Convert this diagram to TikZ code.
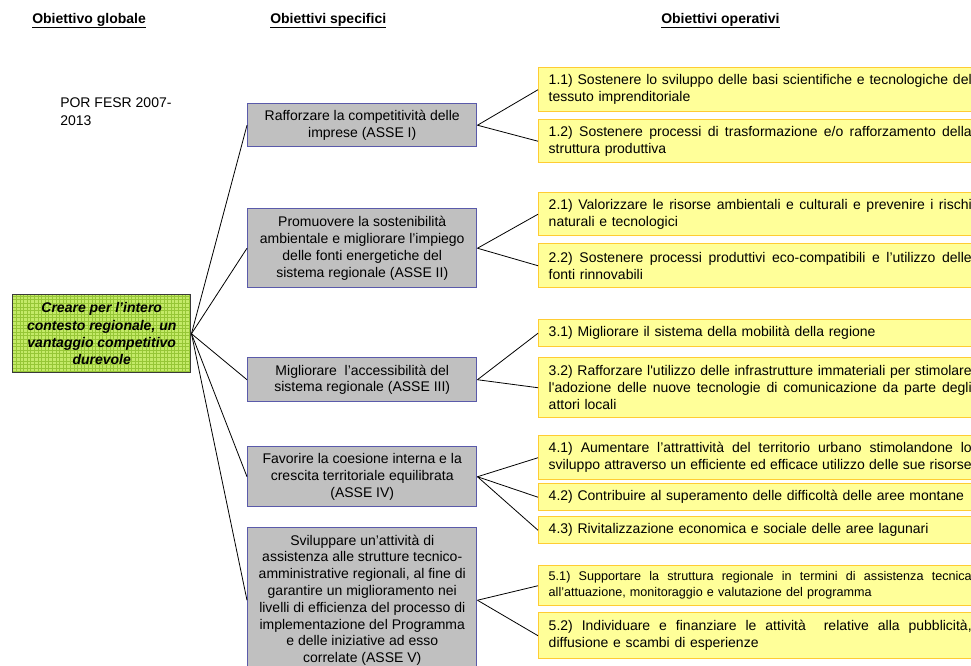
\documentclass[tikz,border=0pt]{standalone}
\usepackage{fontspec}
\setmainfont{Liberation Sans}
\definecolor{specfill}{HTML}{C0C0C0}
\definecolor{specline}{HTML}{5A5AAA}
\definecolor{opfill}{HTML}{FFFF99}
\definecolor{opline}{HTML}{FFCC33}
\definecolor{glfill}{HTML}{C4EA68}
\definecolor{glgrid}{HTML}{96C636}
\definecolor{glline}{HTML}{3A3A3A}
% width of the text column inside the operative boxes
\newlength\opw
\setlength\opw{317.25pt}
% a fully justified line, using the font's own stretchable word space
\newcommand\jl[1]{{\spaceskip=0pt\xspaceskip=0pt\relax\makebox[\opw][s]{#1}}}
\tikzset{
  hdr/.style={font=\bfseries\fontsize{10.5pt}{12pt}\selectfont, inner sep=0pt, anchor=base west},
  plain/.style={font=\fontsize{10.5pt}{12pt}\selectfont, inner sep=0pt, anchor=base west},
  global/.style={draw=glline, fill=glfill, line width=1.1pt, anchor=north west,
    minimum width=133.5pt, minimum height=58.5pt, inner sep=0pt, align=center,
    font=\bfseries\itshape\fontsize{10.5pt}{12.9pt}\selectfont,
    path picture={\draw[glgrid, line width=0.4pt, step=2.7pt]
      (path picture bounding box.south west) grid (path picture bounding box.north east);}},
  spec/.style={draw=specline, fill=specfill, line width=1.1pt, anchor=north west,
    minimum width=171.75pt, inner sep=0pt, align=center,
    font=\fontsize{10.5pt}{12.6pt}\selectfont},
  oper/.style={draw=opline, fill=opfill, line width=1.1pt, anchor=north west,
    text width=\opw, inner xsep=7.5pt, inner ysep=0pt,
    font=\fontsize{10.5pt}{12.75pt}\selectfont},
  link/.style={draw=black, line width=0.6pt}
}
\begin{document}
\begin{tikzpicture}[x=0.75pt, y=-0.75pt]
  \useasboundingbox (0,0) rectangle (971,666);
  \clip (0,0) rectangle (971,666);

  % column headings
  \node[hdr] (h1) at (32,24) {Obiettivo globale};
  \node[hdr] (h2) at (270,24) {Obiettivi specifici};
  \node[hdr] (h3) at (661,24) {Obiettivi operativi};
  \foreach \h in {h1,h2,h3}
    \draw[line width=0.9pt] ([yshift=-2.6pt]\h.base west) -- ([yshift=-2.6pt]\h.base east);

  % programme label
  \node[plain] (por1) at (60,108) {POR FESR 2007-};
  \node[plain] (por2) at (60,126) {2013};

  % global objective
  \node[global] (g) at (12,294) {Creare per l’intero\\contesto regionale, un\\vantaggio competitivo\\durevole};

  % specific objectives
  \node[spec, minimum height=32.25pt] (s1) at (247,103) {Rafforzare la competitività delle\\imprese (ASSE I)};
  \node[spec, minimum height=59.25pt] (s2) at (247,208) {Promuovere la sostenibilità\\ambientale e migliorare l’impiego\\delle fonti energetiche del\\sistema regionale (ASSE II)};
  \node[spec, minimum height=33pt] (s3) at (247,357) {Migliorare\ \ l’accessibilità del\\sistema regionale (ASSE III)};
  \node[spec, minimum height=45pt] (s4) at (247,446) {Favorire la coesione interna e la\\crescita territoriale equilibrata\\(ASSE IV)};
  \node[spec, minimum height=108.75pt] (s5) at (247,527) {Sviluppare un’attività di\\assistenza alle strutture tecnico-\\amministrative regionali, al fine di\\garantire un miglioramento nei\\livelli di efficienza del processo di\\implementazione del Programma\\e delle iniziative ad esso\\correlate (ASSE V)};

  % operative objectives
  \node[oper, minimum height=33pt] (o11) at (538,67) {\jl{1.1) Sostenere lo sviluppo delle basi scientifiche e tecnologiche del}\\tessuto imprenditoriale};
  \node[oper, minimum height=32.25pt] (o12) at (538,119) {\jl{1.2) Sostenere processi di trasformazione e/o rafforzamento della}\\struttura produttiva};
  \node[oper, minimum height=32.25pt] (o21) at (538,192) {\jl{2.1) Valorizzare le risorse ambientali e culturali e prevenire i rischi}\\naturali e tecnologici};
  \node[oper, minimum height=33pt] (o22) at (538,243) {\jl{2.2) Sostenere processi produttivi eco-compatibili e l’utilizzo delle}\\fonti rinnovabili};
  \node[oper, minimum height=20.25pt] (o31) at (538,319) {3.1) Migliorare il sistema della mobilità della regione};
  \node[oper, minimum height=45pt] (o32) at (538,357) {\jl{3.2) Rafforzare l\textquotesingle utilizzo delle infrastrutture immateriali per stimolare}\\\jl{l\textquotesingle adozione delle nuove tecnologie di comunicazione da parte degli}\\attori locali};
  \node[oper, minimum height=33pt] (o41) at (538,435) {\jl{4.1) Aumentare l’attrattività del territorio urbano stimolandone lo}\\\jl{sviluppo attraverso un efficiente ed efficace utilizzo delle sue risorse}};
  \node[oper, minimum height=20.25pt] (o42) at (538,483) {4.2) Contribuire al superamento delle difficoltà delle aree montane};
  \node[oper, minimum height=20.25pt] (o43) at (538,516) {4.3) Rivitalizzazione economica e sociale delle aree lagunari};
  \node[oper, minimum height=30pt, font=\fontsize{9.45pt}{12pt}\selectfont] (o51) at (538,565) {\jl{5.1) Supportare la struttura regionale in termini di assistenza tecnica}\\all’attuazione, monitoraggio e valutazione del programma};
  \node[oper, minimum height=34.5pt] (o52) at (538,612) {\jl{5.2) Individuare e finanziare le attività\ \ relative alla pubblicità,}\\diffusione e scambi di esperienze};

  % connectors: global -> specific
  \foreach \s in {s1,s2,s3,s4,s5}
    \draw[link] (g.east) -- (\s.west);

  % connectors: specific -> operative
  \draw[link] (s1.east) -- (o11.west);
  \draw[link] (s1.east) -- (o12.west);
  \draw[link] (s2.east) -- (o21.west);
  \draw[link] (s2.east) -- (o22.west);
  \draw[link] (s3.east) -- (o31.west);
  \draw[link] (s3.east) -- (o32.west);
  \draw[link] (s4.east) -- (o41.west);
  \draw[link] (s4.east) -- (o42.west);
  \draw[link] (s4.east) -- (o43.west);
  \draw[link] (s5.east) -- (o51.west);
  \draw[link] (s5.east) -- (o52.west);
\end{tikzpicture}
\end{document}
